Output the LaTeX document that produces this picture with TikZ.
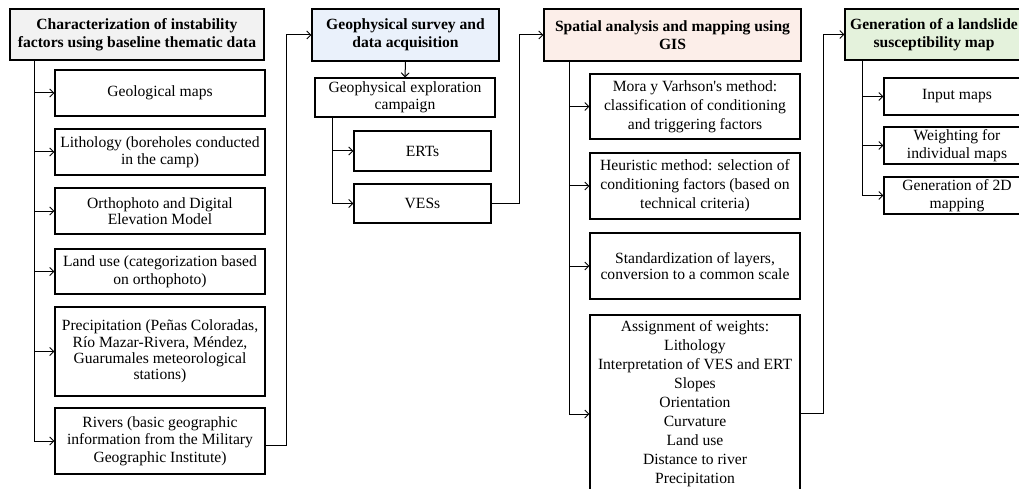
\documentclass[tikz,border=0pt]{standalone}
\usepackage{fontspec}
\setmainfont{Liberation Serif}
\usetikzlibrary{arrows.meta, positioning}
\definecolor{grayhead}{RGB}{242,242,242}
\definecolor{bluehead}{RGB}{234,241,251}
\definecolor{pinkhead}{RGB}{252,238,233}
\definecolor{greenhead}{RGB}{228,242,220}

\begin{document}
\begin{tikzpicture}[x=1pt, y=-1pt,
    box/.style={draw, line width=1.1pt, align=center, inner sep=2pt,
                font=\fontsize{15.6}{17.5}\selectfont},
    head/.style={box, font=\bfseries\fontsize{15.6}{17.5}\selectfont},
    tall/.style={font=\fontsize{15.6}{19}\selectfont},
    tight/.style={font=\fontsize{15.6}{16.4}\selectfont},
    arr/.style={-{Straight Barb[length=4pt, width=8pt]}, line width=1pt}]
    % Khung hình và cắt theo khung
    \useasboundingbox (0,0) rectangle (1019,489);
    \clip (0,0) rectangle (1019,489);

    % Cột 1: các yếu tố bất ổn định
    \node[head, fill=grayhead, minimum width=254, minimum height=51] (t1) at (137,34.5) {Characterization of instability\\factors using baseline thematic data};
    \node[box, minimum width=210, minimum height=46] (a1) at (160,93) {Geological maps};
    \node[box, minimum width=210, minimum height=46] (a2) at (160,152) {Lithology (boreholes conducted\\in the camp)};
    \node[box, tight, minimum width=210, minimum height=46] (a3) at (160,211) {Orthophoto and Digital\\Elevation Model};
    \node[box, minimum width=210, minimum height=45] (a4) at (160,271.5) {Land use (categorization based\\on orthophoto)};
    \node[box, tight, minimum width=210, minimum height=89] (a5) at (160,351.5) {Precipitation (Peñas Coloradas,\\Río Mazar-Rivera, Méndez,\\Guarumales meteorological\\stations)};
    \node[box, minimum width=210, minimum height=66] (a6) at (160,441) {Rivers (basic geographic\\information from the Military\\Geographic Institute)};
    \foreach \n in {a1,a2,a3,a4,a5,a6}
        \draw[arr] ([xshift=25pt]t1.south west) |- (\n.west); % Mũi tên từ trục tới từng ô

    % Cột 2: khảo sát địa vật lý
    \node[head, fill=bluehead, minimum width=187, minimum height=52] (t2) at (405.5,35) {Geophysical survey and\\data acquisition};
    \node[box, minimum width=180, minimum height=39] (b0) at (405,97.5) {Geophysical exploration\\campaign};
    \node[box, minimum width=137, minimum height=40] (b1) at (422.5,151) {ERTs};
    \node[box, minimum width=137, minimum height=39] (b2) at (422.5,203.5) {VESs};
    \draw[arr] (t2.south) -- (b0.north);
    \foreach \n in {b1,b2}
        \draw[arr] ([xshift=18pt]b0.south west) |- (\n.west);
    \draw[arr] ([yshift=-4pt]a6.east) -- ++(21,0) |- (t2.west); % Nối cột 1 sang cột 2

    % Cột 3: phân tích không gian bằng GIS
    \node[head, fill=pinkhead, minimum width=257, minimum height=52] (t3) at (672.5,35) {Spatial analysis and mapping using\\GIS};
    \node[box, tall, minimum width=210, minimum height=65] (c1) at (695,106.5) {Mora y Varhson\textquotesingle s method:\\classification of conditioning\\and triggering factors};
    \node[box, tall, minimum width=210, minimum height=66] (c2) at (695,186) {Heuristic method: selection of\\conditioning factors (based on\\technical criteria)};
    \node[box, tight, minimum width=210, minimum height=66] (c3) at (695,266) {Standardization of layers,\\conversion to a common scale};
    \node[box, tall, minimum width=210, minimum height=178] (c4) at (695,404) {Assignment of weights:\\Lithology\\Interpretation of VES and ERT\\Slopes\\Orientation\\Curvature\\Land use\\Distance to river\\Precipitation};
    \foreach \n in {c1,c2,c3}
        \draw[arr] ([xshift=26pt]t3.south west) |- (\n.west);
    \draw[arr] ([xshift=26pt]t3.south west) |- ([yshift=-10pt]c4.west);
    \draw[arr] (b2.east) -- ++(28,0) |- (t3.west); % Nối cột 2 sang cột 3

    % Cột 4: bản đồ nhạy cảm sạt lở
    \node[head, fill=greenhead, minimum width=178, minimum height=51] (t4) at (934,34.5) {Generation of a landslide\\susceptibility map};
    \node[box, minimum width=146, minimum height=37] (d1) at (957,96.5) {Input maps};
    \node[box, minimum width=146, minimum height=37] (d2) at (957,145.5) {Weighting for\\individual maps};
    \node[box, minimum width=146, minimum height=37] (d3) at (957,195.5) {Generation of 2D\\mapping};
    \foreach \n in {d1,d2,d3}
        \draw[arr] ([xshift=18pt]t4.south west) |- (\n.west);
    \draw[arr] ([yshift=-9pt]c4.east) -- ++(23,0) |- (t4.west); % Nối cột 3 sang cột 4
\end{tikzpicture}
\end{document}
